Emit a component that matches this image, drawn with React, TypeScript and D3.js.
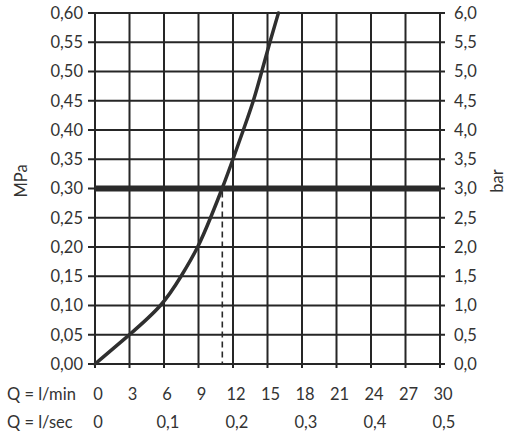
import React from "react";
import * as d3 from "d3";

const W = 508;
const H = 437;

const flowTicks = [0, 3, 6, 9, 12, 15, 18, 21, 24, 27, 30];
const secTicks = [0, 0.1, 0.2, 0.3, 0.4, 0.5];
const mpaTicks = [0, 0.05, 0.1, 0.15, 0.2, 0.25, 0.3, 0.35, 0.4, 0.45, 0.5, 0.55, 0.6];
const barTicks = [0, 0.5, 1, 1.5, 2, 2.5, 3, 3.5, 4, 4.5, 5, 5.5, 6];

const curveQ = [0, 3, 5.9, 7.5, 9, 10.05, 11.07, 12, 12.9, 13.8, 14.5, 15.2, 15.95];
const curveP = [0, 0.05, 0.1, 0.15, 0.2, 0.25, 0.3, 0.35, 0.4, 0.45, 0.5, 0.55, 0.6];

const refPressure = 0.3;
const refFlow = 11.07;

const fmt = (v: number, d: number) => v.toFixed(d).replace(".", ",");

export default function App() {
  const x = d3.scaleLinear().domain([0, 30]).range([95, 440]);
  const y = d3.scaleLinear().domain([0, 0.6]).range([364, 13]);
  const yBar = d3.scaleLinear().domain([0, 6]).range([364, 13]);
  const xSec = d3.scaleLinear().domain([0, 0.5]).range([95, 440]);

  const pts: [number, number][] = curveQ.map((q, i) => [q, curveP[i]]);
  const line = d3
    .line<[number, number]>()
    .x((d) => x(d[0]))
    .y((d) => y(d[1]))
    .curve(d3.curveBasis);

  const grid = "#262626";
  const txt = "#333";
  const font = "Lato, 'Open Sans', sans-serif";
  const fs = 16.5;

  return (
    <svg
      width={W}
      height={H}
      style={{ position: "absolute", left: 0, top: 0, background: "#fff" }}
      fontFamily={font}
    >
      {mpaTicks.map((t) => (
        <line key={"h" + t} x1={88} x2={445} y1={y(t)} y2={y(t)} stroke={grid} strokeWidth={2} />
      ))}
      {flowTicks.map((t) => (
        <line key={"v" + t} x1={x(t)} x2={x(t)} y1={13} y2={368} stroke={grid} strokeWidth={2} />
      ))}
      <line x1={x(0)} x2={x(30)} y1={y(refPressure)} y2={y(refPressure)} stroke="#2a2a2a" strokeWidth={6} />
      <line
        x1={x(refFlow)}
        x2={x(refFlow)}
        y1={y(refPressure) + 3}
        y2={y(0) - 1}
        stroke="#2a2a2a"
        strokeWidth={1.6}
        strokeDasharray="6 4"
      />
      <path d={line(pts) || ""} fill="none" stroke="#2f2f2f" strokeWidth={3.5} strokeLinecap="round" />

      {mpaTicks.map((t) => (
        <text key={"l" + t} x={83} y={y(t)} dy="0.36em" textAnchor="end" fontSize={fs} fill={txt}>
          {fmt(t, 2)}
        </text>
      ))}
      {barTicks.map((t) => (
        <text key={"r" + t} x={454} y={yBar(t)} dy="0.36em" textAnchor="start" fontSize={fs} fill={txt}>
          {fmt(t, 1)}
        </text>
      ))}
      <text transform={`translate(27,181) rotate(-90)`} textAnchor="middle" fontSize={fs} fill={txt}>
        MPa
      </text>
      <text transform={`translate(503,181) rotate(-90)`} textAnchor="middle" fontSize={fs} fill={txt}>
        bar
      </text>

      <text x={7} y={400} fontSize={fs} fill={txt}>Q = l/min</text>
      {flowTicks.map((t) => (
        <text key={"b" + t} x={x(t) + 3} y={400} textAnchor="middle" fontSize={fs} fill={txt}>
          {String(t)}
        </text>
      ))}
      <text x={7} y={428} fontSize={fs} fill={txt}>Q = l/sec</text>
      {secTicks.map((t) => (
        <text key={"s" + t} x={xSec(t) + (t === 0 ? 3 : 4)} y={428} textAnchor="middle" fontSize={fs} fill={txt}>
          {t === 0 ? "0" : fmt(t, 1)}
        </text>
      ))}
    </svg>
  );
}
